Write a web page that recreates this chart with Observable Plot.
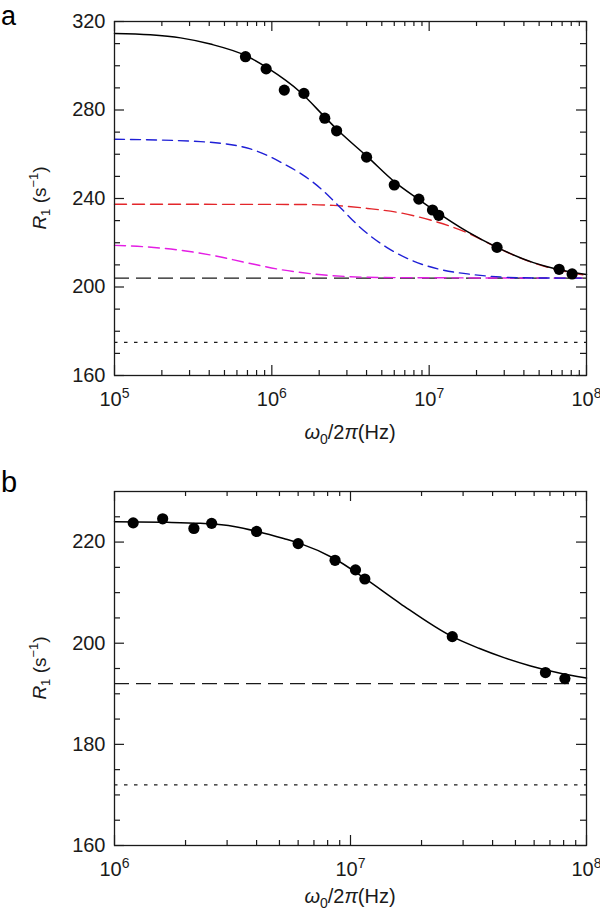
<!DOCTYPE html>
<html><head><meta charset="utf-8">
<script src="https://cdn.jsdelivr.net/npm/d3@7"></script>
<script src="https://cdn.jsdelivr.net/npm/@observablehq/plot@0.6"></script>
<style>
body{margin:0;background:#fff;}
#chart{width:600px;height:913px;position:relative;background:#fff;}
svg{display:block;}
.letter{position:absolute;left:1px;font-family:'Liberation Sans', Arial, Helvetica, sans-serif;color:#000;white-space:nowrap;}
</style></head><body><div id="chart"></div>
<script>
// ---------- Panel a data ----------
const freqA = [6.8e5, 9.2e5, 1.2e6, 1.6e6, 2.17e6, 2.58e6, 4.0e6, 6.0e6, 8.6e6, 1.05e7, 1.15e7, 2.7e7, 6.7e7, 8.1e7];
const r1A   = [304.1, 298.6, 289.0, 287.5, 276.3, 270.6, 258.7, 246.1, 239.7, 234.8, 232.4, 217.9, 208.0, 205.9];

const fitA_x = [1e5, 1.69e5, 2.63e5, 4.07e5, 6.87e5, 9.38e5, 1.52e6, 2.16e6, 2.57e6, 4.06e6, 6.03e6, 8.61e6, 1.05e7, 1.75e7, 2.68e7, 4.6e7, 6.73e7, 1e8];
const fitA_y = [314.6, 314.0, 312.6, 309.8, 304.5, 299.0, 288.0, 277.0, 271.5, 258.8, 247.5, 239.5, 235.2, 225.0, 218.0, 211.0, 207.8, 205.6];

const blueA_x = [1e5, 3.52e5, 7.31e5, 1.26e6, 1.58e6, 2.13e6, 2.73e6, 3.66e6, 5.43e6, 7.94e6, 1.18e7, 1.91e7, 2.84e7, 4.6e7, 1e8];
const blueA_y = [266.8, 265.7, 262.4, 254.7, 250.6, 243.4, 235.8, 226.8, 217.7, 211.7, 207.9, 205.6, 204.5, 204.1, 204.0];

const redA_x = [1e5, 1.52e6, 2.45e6, 4.06e6, 6.58e6, 1.07e7, 1.75e7, 2.72e7, 4.6e7, 7.57e7, 1e8];
const redA_y = [237.4, 237.3, 236.9, 235.5, 233.5, 229.8, 224.5, 217.7, 210.9, 206.8, 205.3];

const magA_x = [1e5, 1.62e5, 2.63e5, 4.27e5, 7.0e5, 1.135e6, 1.84e6, 3.02e6, 4.9e6, 1e8];
const magA_y = [218.8, 218.1, 216.6, 214.2, 210.9, 207.9, 205.9, 204.7, 204.3, 204.0];

const dashA = 204;
const dotA = 175;

// ---------- Panel b data ----------
const freqB = [1.2e6, 1.6e6, 2.17e6, 2.58e6, 4.0e6, 6.0e6, 8.6e6, 1.05e7, 1.15e7, 2.7e7, 6.7e7, 8.1e7];
const r1B   = [223.8, 224.6, 222.7, 223.7, 222.1, 219.7, 216.4, 214.5, 212.7, 201.3, 194.2, 193.0];

const fitB_x = [1e6, 1.67e6, 2.31e6, 3.21e6, 4.03e6, 5.21e6, 6.14e6, 8.49e6, 1.15e7, 1.63e7, 2.7e7, 3.5e7, 4.5e7, 5.8e7, 7.5e7, 1e8];
const fitB_y = [224.0, 223.9, 223.7, 223.1, 222.1, 220.7, 219.7, 216.8, 212.8, 207.8, 201.3, 199.0, 197.1, 195.5, 194.2, 193.1];

const dashB = 192;
const dotB = 172;

// ---------- Ticks ----------
const majorXA = [1e5, 1e6, 1e7, 1e8];
const minorXA = [2e5,3e5,4e5,5e5,6e5,7e5,8e5,9e5, 2e6,3e6,4e6,5e6,6e6,7e6,8e6,9e6, 2e7,3e7,4e7,5e7,6e7,7e7,8e7,9e7];
const majorYA = [160, 200, 240, 280, 320];
const minorYA = [170,180,190,210,220,230,250,260,270,290,300,310];

const majorXB = [1e6, 1e7, 1e8];
const minorXB = [2e6,3e6,4e6,5e6,6e6,7e6,8e6,9e6, 2e7,3e7,4e7,5e7,6e7,7e7,8e7,9e7];
const majorYB = [160, 180, 200, 220];
const minorYB = [165,170,175,185,190,195,205,210,215,225];

const panelLetters = ["a", "b"];

const FONT = "'Liberation Sans', Arial, Helvetica, sans-serif";
const INK = "#1a1a1a";
const TICKFS = 20;

function toRows(xs, ys) { return xs.map((x, i) => ({x, y: ys[i]})); }

function panel({height, marginBottom, titleOffset, xDomain, yDomain, majorX, minorX, majorY, minorY, curves, dash, dot, px, py}) {
  const W = 600, mL = 114, mR = 14, mT = 21;
  const fh = height - mT - marginBottom;
  const fw = W - mL - mR;
  const marks = [
    Plot.ruleY([dot], {stroke: INK, strokeWidth: 1.3, strokeDasharray: "3.5,6.5"}),
    Plot.ruleY([dash], {stroke: INK, strokeWidth: 1.4, strokeDasharray: "15,7"}),
  ];
  curves.forEach(c => marks.push(Plot.line(toRows(c.x, c.y), {
    x: "x", y: "y", stroke: c.color, strokeWidth: c.w, strokeDasharray: c.dash, curve: "monotone-x"
  })));
  marks.push(
    Plot.dot(toRows(px, py), {x: "x", y: "y", r: 5.6, fill: "black", stroke: "none"}),
    Plot.tickX(majorX, {x: d => d, insetTop: fh - 10, stroke: INK, strokeWidth: 1.2}),
    Plot.tickX(majorX, {x: d => d, insetBottom: fh - 10, stroke: INK, strokeWidth: 1.2}),
    Plot.tickX(minorX, {x: d => d, insetTop: fh - 5, stroke: INK, strokeWidth: 1.2}),
    Plot.tickX(minorX, {x: d => d, insetBottom: fh - 5, stroke: INK, strokeWidth: 1.2}),
    Plot.tickY(majorY, {y: d => d, insetRight: fw - 10, stroke: INK, strokeWidth: 1.2}),
    Plot.tickY(majorY, {y: d => d, insetLeft: fw - 10, stroke: INK, strokeWidth: 1.2}),
    Plot.tickY(minorY, {y: d => d, insetRight: fw - 6, stroke: INK, strokeWidth: 1.2}),
    Plot.tickY(minorY, {y: d => d, insetLeft: fw - 6, stroke: INK, strokeWidth: 1.2}),
    Plot.axisY(majorY, {anchor: "left", tickSize: 0, tickPadding: 9, label: null, fontSize: TICKFS}),
    Plot.axisX(majorX, {anchor: "bottom", tickSize: 0, tickPadding: 16, label: null, fontSize: TICKFS,
      tickFormat: d => "10^" + Math.round(Math.log10(d))}),
    Plot.frame({stroke: INK, strokeWidth: 1.3})
  );
  const svg = Plot.plot({
    width: W, height,
    marginLeft: mL, marginRight: mR, marginTop: mT, marginBottom,
    x: {type: "log", domain: xDomain, axis: null},
    y: {domain: yDomain, axis: null},
    style: {fontFamily: FONT, fontSize: TICKFS + "px", color: INK, background: "white", overflow: "visible"},
    marks
  });
  const s = d3.select(svg);
  s.selectAll('g[aria-label$="tick label"]').attr("font-size", TICKFS).attr("font-family", FONT);
  s.selectAll('g[aria-label="x-axis tick label"] text').each(function() {
    const m = (this.textContent || "").match(/^10\^(\d+)$/);
    if (!m) return;
    this.textContent = "";
    const t = d3.select(this);
    t.append("tspan").text("10");
    t.append("tspan").attr("dy", "-8").attr("font-size", "14").text(m[1]);
  });
  const fb = height - marginBottom;
  const yt = s.append("text")
    .attr("transform", `translate(46,${(mT + fb) / 2}) rotate(-90)`)
    .attr("text-anchor", "middle").attr("font-size", 19).attr("fill", INK).attr("font-family", FONT);
  yt.append("tspan").attr("font-style", "italic").text("R");
  yt.append("tspan").attr("font-size", 13).attr("dy", 4).text("1");
  yt.append("tspan").attr("dy", -4).text(" (s");
  yt.append("tspan").attr("font-size", 13).attr("dy", -8).text("−1");
  yt.append("tspan").attr("dy", 8).text(")");
  const xt = s.append("text")
    .attr("x", mL + fw / 2).attr("y", fb + titleOffset)
    .attr("text-anchor", "middle").attr("font-size", 20).attr("fill", INK).attr("font-family", FONT);
  xt.append("tspan").attr("font-style", "italic").text("ω");
  xt.append("tspan").attr("font-size", 14).attr("dy", 5).text("0");
  xt.append("tspan").attr("dy", -5).text("/2");
  xt.append("tspan").attr("font-style", "italic").text("π");
  xt.append("tspan").text("(Hz)");
  return svg;
}

const chart = document.getElementById("chart");
chart.appendChild(panel({
  height: 470, marginBottom: 95, titleOffset: 64,
  xDomain: [1e5, 1e8], yDomain: [160, 320],
  majorX: majorXA, minorX: minorXA, majorY: majorYA, minorY: minorYA,
  curves: [
    {x: magA_x, y: magA_y, color: "#e41ee4", w: 1.4, dash: "11,6"},
    {x: redA_x, y: redA_y, color: "#e3262b", w: 1.4, dash: "12,6"},
    {x: blueA_x, y: blueA_y, color: "#1f1fd6", w: 1.4, dash: "10,6"},
    {x: fitA_x, y: fitA_y, color: "black", w: 1.5, dash: null}
  ],
  dash: dashA, dot: dotA, px: freqA, py: r1A
}));
chart.appendChild(panel({
  height: 443, marginBottom: 68, titleOffset: 58,
  xDomain: [1e6, 1e8], yDomain: [160, 230],
  majorX: majorXB, minorX: minorXB, majorY: majorYB, minorY: minorYB,
  curves: [
    {x: fitB_x, y: fitB_y, color: "black", w: 1.5, dash: null}
  ],
  dash: dashB, dot: dotB, px: freqB, py: r1B
}));
// panel letters (HTML, placed above each SVG panel)
[{top: 1, fs: 27}, {top: 466, fs: 29}].forEach((p, i) => {
  const d = document.createElement("div");
  d.className = "letter";
  d.style.top = p.top + "px";
  d.style.fontSize = p.fs + "px";
  d.style.lineHeight = "1.15";
  d.textContent = panelLetters[i];
  chart.appendChild(d);
});
</script>
</body></html>
